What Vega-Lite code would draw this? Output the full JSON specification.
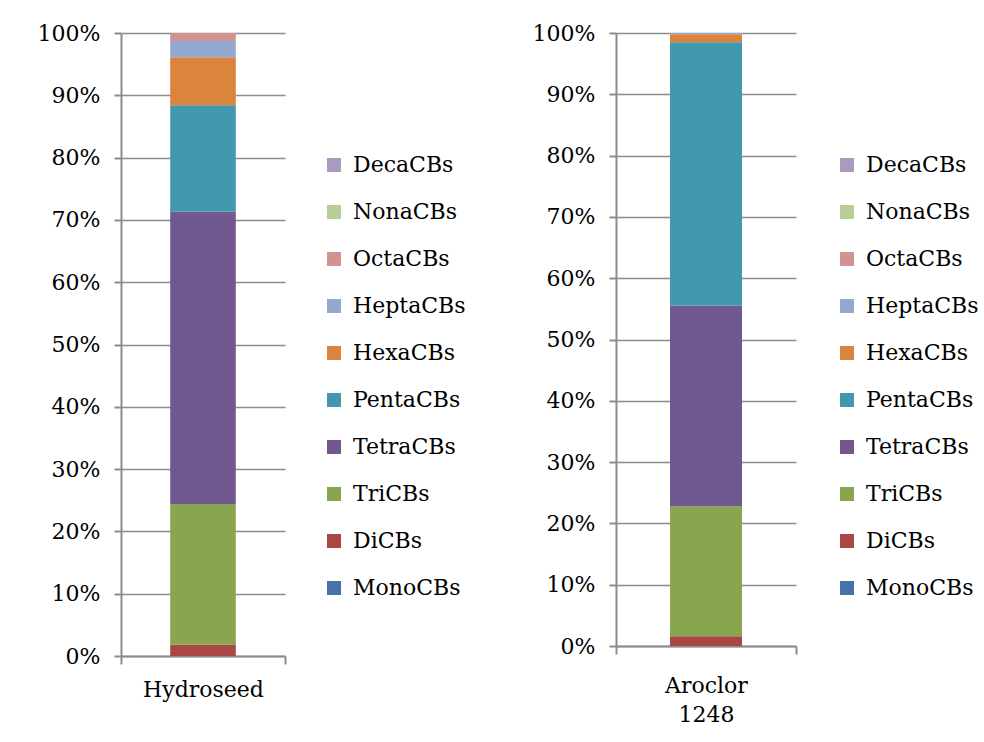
{
  "$schema": "https://vega.github.io/schema/vega-lite/v6.json",
  "autosize": {"type": "pad"},
  "padding": {"left": 37, "top": 22, "right": 0, "bottom": 0},
  "background": "white",
  "data": {
    "values": [
      {"sample": "Hydroseed", "homolog": "MonoCBs", "rank": 1, "pct": 0},
      {"sample": "Hydroseed", "homolog": "DiCBs", "rank": 2, "pct": 1.8},
      {"sample": "Hydroseed", "homolog": "TriCBs", "rank": 3, "pct": 22.6},
      {"sample": "Hydroseed", "homolog": "TetraCBs", "rank": 4, "pct": 46.9},
      {"sample": "Hydroseed", "homolog": "PentaCBs", "rank": 5, "pct": 17.1},
      {"sample": "Hydroseed", "homolog": "HexaCBs", "rank": 6, "pct": 7.7},
      {"sample": "Hydroseed", "homolog": "HeptaCBs", "rank": 7, "pct": 2.6},
      {"sample": "Hydroseed", "homolog": "OctaCBs", "rank": 8, "pct": 1.3},
      {"sample": "Hydroseed", "homolog": "NonaCBs", "rank": 9, "pct": 0},
      {"sample": "Hydroseed", "homolog": "DecaCBs", "rank": 10, "pct": 0},
      {"sample": "Aroclor 1248", "homolog": "MonoCBs", "rank": 1, "pct": 0},
      {"sample": "Aroclor 1248", "homolog": "DiCBs", "rank": 2, "pct": 1.6},
      {"sample": "Aroclor 1248", "homolog": "TriCBs", "rank": 3, "pct": 21.2},
      {"sample": "Aroclor 1248", "homolog": "TetraCBs", "rank": 4, "pct": 32.7},
      {"sample": "Aroclor 1248", "homolog": "PentaCBs", "rank": 5, "pct": 43.0},
      {"sample": "Aroclor 1248", "homolog": "HexaCBs", "rank": 6, "pct": 1.3},
      {"sample": "Aroclor 1248", "homolog": "HeptaCBs", "rank": 7, "pct": 0.2},
      {"sample": "Aroclor 1248", "homolog": "OctaCBs", "rank": 8, "pct": 0},
      {"sample": "Aroclor 1248", "homolog": "NonaCBs", "rank": 9, "pct": 0},
      {"sample": "Aroclor 1248", "homolog": "DecaCBs", "rank": 10, "pct": 0}
    ]
  },
  "hconcat": [
    {
      "width": 164,
      "height": 623,
      "transform": [{"filter": "datum.sample == 'Hydroseed'"}],
      "mark": {"type": "bar", "width": {"band": 0.4}},
      "encoding": {
        "x": {"field": "sample", "type": "nominal", "scale": {"paddingInner": 0, "paddingOuter": 0}, "axis": {"title": null}},
        "y": {"field": "pct", "type": "quantitative", "stack": "normalize", "axis": {"title": null, "format": ".0%", "values": [0, 0.1, 0.2, 0.3, 0.4, 0.5, 0.6, 0.7, 0.8, 0.9, 1]}},
        "color": {"field": "homolog", "type": "nominal",
          "scale": {"domain": ["DecaCBs", "NonaCBs", "OctaCBs", "HeptaCBs", "HexaCBs", "PentaCBs", "TetraCBs", "TriCBs", "DiCBs", "MonoCBs"],
                    "range": ["#A99BBD", "#B9CD96", "#D19392", "#93A9CF", "#DB843D", "#4198AF", "#71588F", "#89A54E", "#AA4643", "#4572A7"]},
          "legend": {"title": null, "orient": "none", "legendX": 202, "legendY": 121}},
        "order": {"field": "rank", "type": "quantitative", "sort": "ascending"}
      }
    },
    {
      "width": 180,
      "height": 613,
      "transform": [{"filter": "datum.sample == 'Aroclor 1248'"}],
      "mark": {"type": "bar", "width": {"band": 0.4}},
      "encoding": {
        "x": {"field": "sample", "type": "nominal", "scale": {"paddingInner": 0, "paddingOuter": 0},
              "axis": {"title": null, "labelExpr": "datum.value == 'Aroclor 1248' ? ['Aroclor', '1248'] : datum.label", "labelLineHeight": 29, "labelPadding": 21}},
        "y": {"field": "pct", "type": "quantitative", "stack": "normalize", "axis": {"title": null, "format": ".0%", "values": [0, 0.1, 0.2, 0.3, 0.4, 0.5, 0.6, 0.7, 0.8, 0.9, 1]}},
        "color": {"field": "homolog", "type": "nominal",
          "scale": {"domain": ["DecaCBs", "NonaCBs", "OctaCBs", "HeptaCBs", "HexaCBs", "PentaCBs", "TetraCBs", "TriCBs", "DiCBs", "MonoCBs"],
                    "range": ["#A99BBD", "#B9CD96", "#D19392", "#93A9CF", "#DB843D", "#4198AF", "#71588F", "#89A54E", "#AA4643", "#4572A7"]},
          "legend": {"title": null, "orient": "none", "legendX": 220, "legendY": 121}},
        "order": {"field": "rank", "type": "quantitative", "sort": "ascending"}
      }
    }
  ],
  "spacing": 331,
  "bounds": "flush",
  "resolve": {"legend": {"color": "independent"}},
  "config": {
    "view": {"stroke": null},
    "font": "DejaVu Serif",
    "axis": {
      "labelFont": "DejaVu Serif",
      "labelFontSize": 22,
      "labelColor": "#000000",
      "domainColor": "#8c8c8c",
      "domainWidth": 2,
      "tickColor": "#8c8c8c",
      "tickWidth": 2,
      "gridColor": "#8c8c8c",
      "gridWidth": 1.5
    },
    "axisY": {"grid": true, "tickSize": 7, "labelPadding": 14, "domain": true},
    "axisX": {"grid": false, "tickBand": "extent", "tickSize": 8, "labelPadding": 15, "labelAngle": 0, "domain": true},
    "legend": {
      "labelFont": "DejaVu Serif",
      "labelFontSize": 22,
      "labelColor": "#000000",
      "symbolType": "square",
      "symbolSize": 196,
      "symbolStrokeWidth": 0,
      "symbolOpacity": 1,
      "rowPadding": 25,
      "labelOffset": 8,
      "padding": 0
    }
  }
}
